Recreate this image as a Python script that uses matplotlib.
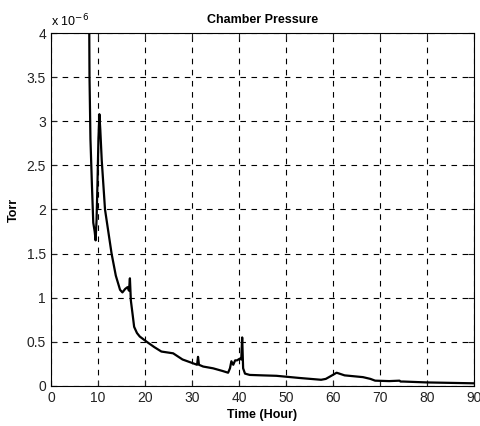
import matplotlib
matplotlib.use('Agg')
import matplotlib.pyplot as plt
from matplotlib.ticker import FuncFormatter

plt.rcParams.update({
    'font.family': ['Liberation Sans', 'DejaVu Sans'],
    'font.size': 9,
})

# pressure readings, Torr in units of 1e-6
hours = [8.0, 8.15, 8.2, 8.4, 8.7, 9.0, 9.3, 9.5, 9.7, 9.9, 10.1, 10.3, 10.5, 10.8,
         11.5, 12.2, 12.9, 13.8, 14.7, 15.2, 15.8, 16.3, 16.6, 16.8, 17.0, 17.4,
         17.7, 18.3, 18.9, 20.4, 22.0, 23.5, 26.0, 28.0, 30.6, 31.1, 31.3, 31.5,
         32.4, 34.5, 36.5, 37.7, 38.1, 38.4, 38.8, 39.2, 39.6, 40.2, 40.5, 40.7,
         40.9, 41.3, 42.3, 45.0, 48.0, 50.0, 53.0, 57.5, 58.5, 59.5, 60.8,
         62.5, 66.4, 68.0, 69.0, 72.0, 74.2, 74.4, 75.0, 80.0, 85.0, 90.0]
torr_e6 = [4.6, 4.0, 3.5, 2.8, 2.3, 1.85, 1.75, 1.65, 1.88, 2.3, 2.8, 3.08, 2.9, 2.56,
           2.0, 1.75, 1.5, 1.25, 1.09, 1.06, 1.1, 1.12, 1.08, 1.22, 0.97, 0.8,
           0.67, 0.6, 0.56, 0.5, 0.44, 0.39, 0.37, 0.3, 0.25, 0.24, 0.33, 0.24,
           0.22, 0.2, 0.17, 0.15, 0.2, 0.28, 0.24, 0.29, 0.29, 0.31, 0.3, 0.55,
           0.2, 0.14, 0.125, 0.12, 0.115, 0.105, 0.09, 0.07, 0.08, 0.11, 0.15,
           0.12, 0.1, 0.08, 0.06, 0.055, 0.06, 0.05, 0.05, 0.04, 0.035, 0.03]

xticks = list(range(0, 91, 10))
yticks = [0, 0.5, 1, 1.5, 2, 2.5, 3, 3.5, 4]

fig = plt.figure(figsize=(4.81, 4.26), dpi=100)
ax = fig.add_axes([0.106, 0.094, 0.879, 0.8285])

ax.plot(hours, torr_e6, color='black', lw=1.6)

ax.set_xlim(0, 90)
ax.set_ylim(0, 4)
ax.set_xticks(xticks)
ax.set_yticks(yticks)
ax.yaxis.set_major_formatter(FuncFormatter(lambda v, p: f'{v:g}'))
ax.tick_params(direction='in', length=4, width=0.8, labelsize=10, top=True, right=True,
               labeltop=False, labelright=False, colors='#222222')
ax.grid(True, color='black', linestyle=(0, (5, 5)), linewidth=0.8)
for s in ax.spines.values():
    s.set_linewidth(0.8)

ax.set_title('Chamber Pressure', fontsize=9, fontweight='bold', pad=7)
ax.set_xlabel('Time (Hour)', fontsize=9, fontweight='bold', labelpad=3)
ax.set_ylabel('Torr', fontsize=9, fontweight='bold', labelpad=5)
ax.text(0, 1.01, r'x 10$^{-6}$', transform=ax.transAxes, fontsize=9,
        ha='left', va='bottom')

fig.savefig('out.png', dpi=100)
